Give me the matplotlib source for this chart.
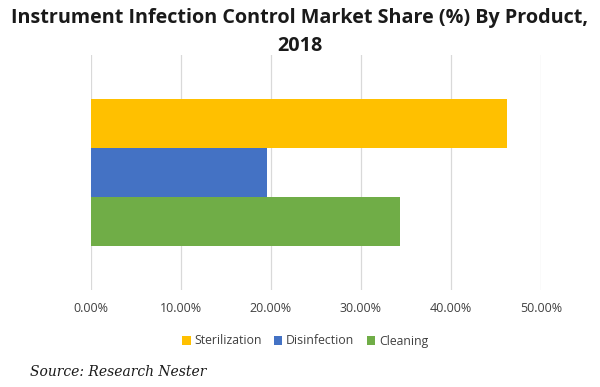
import matplotlib
matplotlib.use("Agg")
import matplotlib.pyplot as plt

title = "Instrument Infection Control Market Share (%) By Product,\n2018"
series = ["Sterilization", "Disinfection", "Cleaning"]
values = [46.2, 19.6, 34.3]
colors = ["#FFC000", "#4472C4", "#70AD47"]
xticks = [0, 10, 20, 30, 40, 50]
xtick_labels = ["0.00%", "10.00%", "20.00%", "30.00%", "40.00%", "50.00%"]
source = "Source: Research Nester"

W, H = 600, 387
fig = plt.figure(figsize=(6, 3.87), dpi=100)

ax = fig.add_axes([91 / W, 1 - 290 / H, (541 - 91) / W, (290 - 55) / H])

bar_h = 49 / 235
n = len(series)
for i, (s, v, c) in enumerate(zip(series, values, colors)):
    y = (n - 1) / 2 - i
    ax.barh(y * bar_h, v, height=bar_h, color=c, label=s, zorder=3)

ax.set_xlim(0, 50)
ax.set_ylim(-0.5, 0.5)
ax.set_xticks(xticks)
ax.set_xticklabels(xtick_labels, fontsize=9, color="#404040", family="Open Sans")
ax.set_yticks([])
ax.grid(axis="x", color="#d9d9d9", linewidth=0.9, zorder=1)
for sp in ax.spines.values():
    sp.set_visible(False)
ax.tick_params(axis="x", length=0, pad=9)

leg = ax.legend(loc="center", bbox_to_anchor=(305 / W, 1 - 341 / H),
                bbox_transform=fig.transFigure, ncol=3, frameon=False,
                handlelength=0.7, handleheight=0.7, handletextpad=0.3,
                columnspacing=1.0, prop={"family": "Open Sans", "size": 8.8})
for t in leg.get_texts():
    t.set_color("#404040")

fig.text(0.5, 1 - 32 / H, title, ha="center", va="center", fontsize=14.2,
         fontweight="bold", family="Open Sans", color="#1a1a1a", linespacing=1.5)
fig.text(30 / W, 1 - 372 / H, source, ha="left", va="center", fontsize=10,
         style="italic", family="DejaVu Serif", color="#1a1a1a")

fig.savefig("out.png", dpi=100)
